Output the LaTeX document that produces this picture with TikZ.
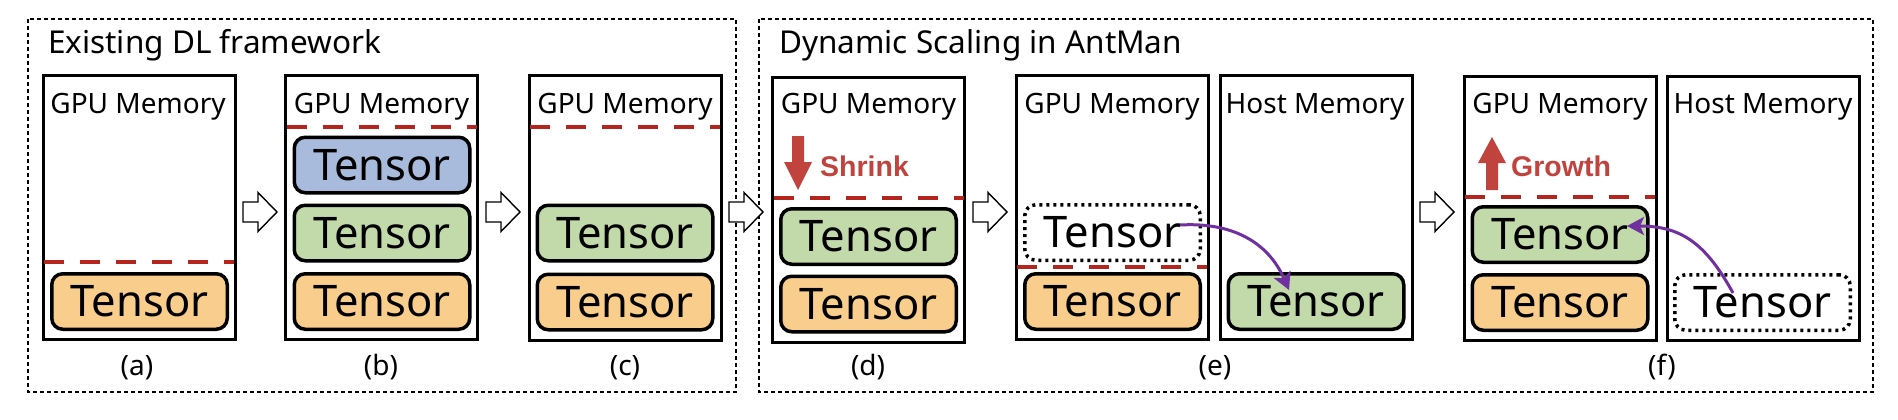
\documentclass[tikz,border=0pt]{standalone}
\usepackage{fontspec}
\setmainfont{Noto Sans}
\newfontfamily\scalefam{Liberation Sans}
\usetikzlibrary{arrows.meta}
\definecolor{tOrange}{HTML}{F9CD8C}
\definecolor{tGreen}{HTML}{C2D9AA}
\definecolor{tBlue}{HTML}{A9BBDC}
\definecolor{limRed}{HTML}{B5251E}
\definecolor{txtRed}{HTML}{C0433E}
\definecolor{arrPurple}{HTML}{7030A0}
\newcommand\hollowarrow[2]{\draw[blockarr, shift={(#1,#2)}] (0,-10) -- (15,-10) -- (15,-19.5) -- (34,0) -- (15,19.5) -- (15,10) -- (0,10) -- cycle;}
\newcommand\limitline[2]{\draw[limit] (#1-95,#2) -- (#1+95,#2);}
\begin{document}
\begin{tikzpicture}[x=1pt,y=-1pt,
  outerbox/.style={draw=black, line width=1.3pt, dash pattern=on 4pt off 3pt},
  membox/.style={draw=black, line width=3pt, minimum width=192, minimum height=264, inner sep=0pt},
  memlabel/.style={font=\fontsize{28}{30}\selectfont, inner sep=0pt, anchor=base},
  sublabel/.style={font=\fontsize{28}{30}\selectfont, inner sep=0pt, anchor=base},
  titletext/.style={font=\fontsize{31.5}{34}\selectfont, inner sep=0pt, anchor=base west},
  tensor/.style={draw=black, line width=3.5pt, rounded corners=11pt, minimum width=175.5, minimum height=55.5, inner sep=0pt, font=\fontsize{43.5}{46}\selectfont},
  ghost/.style={tensor, dash pattern=on 3pt off 4pt, fill=white},
  limit/.style={draw=limRed, line width=4pt, dash pattern=on 20pt off 16pt},
  blockarr/.style={draw=black, line width=1.4pt, fill=white, line join=miter},
  scaletext/.style={font=\scalefam\bfseries\fontsize{28.5}{30}\selectfont, text=txtRed, inner sep=0pt, anchor=base west},
  move/.style={draw=arrPurple, line width=3pt, -{Stealth[length=17pt, width=18pt, inset=4pt]}}
]
\useasboundingbox (0,0) rectangle (1898,420);
% outer groups
\draw[outerbox] (28,19) rectangle (736,392);
\draw[outerbox] (759,19) rectangle (1873,392);
\node[titletext] (t1) at (48,54) {Existing DL framework};
\node[titletext] (t2) at (779,54) {Dynamic Scaling in AntMan};
% memory boxes
\node[membox] (ga) at (139.2,207.5) {};
\node[membox] (gb) at (381.5,207.5) {};
\node[membox] (gc) at (625,208) {};
\node[membox] (gd) at (868.5,210) {};
\node[membox] (ge) at (1112,207.5) {};
\node[membox] (he) at (1316,207.5) {};
\node[membox] (gf) at (1560,208.5) {};
\node[membox] (hf) at (1763.5,208.5) {};
% memory labels
\node[memlabel] (ga-l) at (138,113) {GPU Memory};
\node[memlabel] (gb-l) at (381.5,113) {GPU Memory};
\node[memlabel] (gc-l) at (625,113) {GPU Memory};
\node[memlabel] (gd-l) at (868.5,113) {GPU Memory};
\node[memlabel] (ge-l) at (1112,113) {GPU Memory};
\node[memlabel] (he-l) at (1315,113) {Host Memory};
\node[memlabel] (gf-l) at (1560,113) {GPU Memory};
\node[memlabel] (hf-l) at (1763,113) {Host Memory};
% limit lines
\limitline{139.2}{262}
\limitline{381.5}{127}
\limitline{625}{127}
\limitline{868.5}{198}
\limitline{1112}{267}
\limitline{1560}{197}
% tensors
\node[tensor, fill=tOrange] (ta) at (139.5,301.5) {Tensor};
\node[tensor, fill=tBlue] (tb1) at (382,165) {Tensor};
\node[tensor, fill=tGreen] (tb2) at (382,233) {Tensor};
\node[tensor, fill=tOrange] (tb3) at (382,301.5) {Tensor};
\node[tensor, fill=tGreen] (tc1) at (625,233) {Tensor};
\node[tensor, fill=tOrange] (tc2) at (625,302) {Tensor};
\node[tensor, fill=tGreen] (td1) at (868.5,236.5) {Tensor};
\node[tensor, fill=tOrange] (td2) at (868.5,304) {Tensor};
\node[ghost] (te1) at (1112.5,232.5) {Tensor};
\node[tensor, fill=tOrange] (te2) at (1112.5,301.5) {Tensor};
\node[tensor, fill=tGreen] (the) at (1316,301.5) {Tensor};
\node[tensor, fill=tGreen] (tf1) at (1560,234.5) {Tensor};
\node[tensor, fill=tOrange] (tf2) at (1560,302.5) {Tensor};
\node[ghost] (thf) at (1762.5,302.5) {Tensor};
% shrink / growth
\fill[txtRed, shift={(798,136)}] (-6,0) -- (6,0) -- (6,26) -- (14,26) -- (0,54) -- (-14,26) -- (-6,26) -- cycle;
\node[scaletext] (shr) at (820,176) {Shrink};
\fill[txtRed, shift={(1492,137)}] (0,0) -- (14,26) -- (6,26) -- (6,53) -- (-6,53) -- (-6,26) -- (-14,26) -- cycle;
\node[scaletext] (gro) at (1511,176) {Growth};
% transfer arrows
\coordinate (e-src) at (1180,225);
\coordinate (e-dst) at (1289,290);
\draw[move] (e-src) .. controls (1232,222) and (1268,242) .. (e-dst);
\coordinate (f-src) at (1733,293);
\coordinate (f-dst) at (1627,226);
\draw[move] (f-src) .. controls (1705,242) and (1680,226) .. (f-dst);
% block arrows
\hollowarrow{243}{212}
\hollowarrow{486}{212}
\hollowarrow{729}{212}
\hollowarrow{973}{212}
\hollowarrow{1420}{212}
% sub labels
\node[sublabel] (la) at (137,375) {(a)};
\node[sublabel] (lb) at (381,375) {(b)};
\node[sublabel] (lc) at (625,375) {(c)};
\node[sublabel] (ld) at (868,375) {(d)};
\node[sublabel] (le) at (1215,375) {(e)};
\node[sublabel] (lf) at (1662,375) {(f)};
\end{tikzpicture}
\end{document}
